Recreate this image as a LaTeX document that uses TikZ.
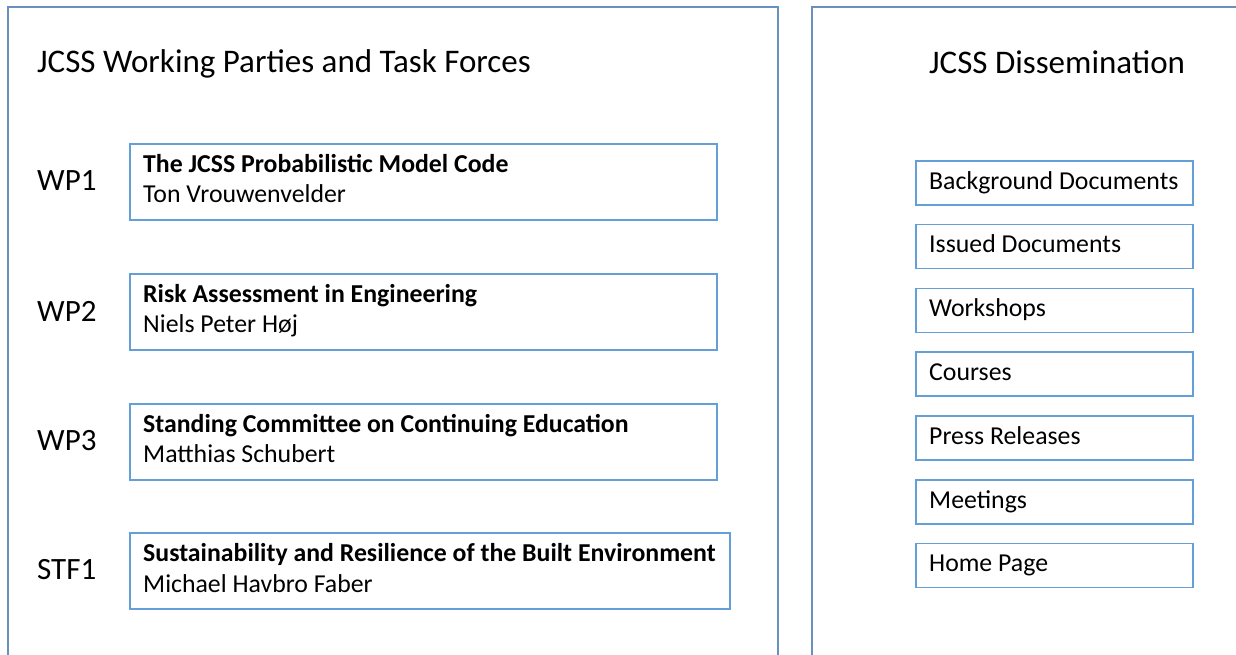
\documentclass[tikz,border=0pt]{standalone}
\usepackage{fontspec}
\setmainfont{Carlito}
\usetikzlibrary{calc}
\definecolor{outerc}{RGB}{105,145,190}
\definecolor{innerc}{RGB}{100,160,215}
\begin{document}
\begin{tikzpicture}[x=1pt,y=-1pt,
  outer/.style={draw=outerc, line width=1.5pt},
  ibox/.style={draw=innerc, line width=1.5pt, anchor=north west, inner sep=0pt, minimum height=76pt},
  dbox/.style={draw=innerc, line width=1.5pt, anchor=north west, inner sep=0pt, minimum width=277pt, minimum height=44pt},
  ttl/.style={anchor=base west, inner sep=0pt, font=\fontsize{33}{40}\selectfont},
  lbl/.style={anchor=west, inner sep=0pt, font=\fontsize{31}{37}\selectfont},
  btxt/.style={anchor=base west, inner sep=0pt, font=\fontsize{25.8}{30}\selectfont\bfseries},
  ntxt/.style={anchor=base west, inner sep=0pt, font=\fontsize{25.8}{30}\selectfont},
]
\useasboundingbox (0,0) rectangle (1236,654);
\clip (0,0) rectangle (1236,654);
% outer panels (open at the bottom / right)
\draw[outer] (8,670) -- (8,7) -- (778,7) -- (778,670);
\draw[outer] (812,670) -- (812,7) -- (1250,7) -- (1250,670);

\node[ttl] (t1) at (37,72) {JCSS Working Parties and Task Forces};
\node[ttl] (t2) at (929,73) {JCSS Dissemination};

% working party boxes
\node[ibox, minimum width=587pt] (wp1) at (129,143) {};
\node[ibox, minimum width=587pt] (wp2) at (129,273) {};
\node[ibox, minimum width=587pt] (wp3) at (129,403) {};
\node[ibox, minimum width=600pt] (stf1) at (129,532) {};

\foreach \b/\l in {wp1/WP1, wp2/WP2, wp3/WP3, stf1/STF1}{
  \node[lbl] (l\b) at ($(\b.north west)+(-92,38)$) {\l};
}

\node[btxt] (h1) at ($(wp1.north west)+(14,29)$) {The JCSS Probabilistic Model Code};
\node[ntxt] (n1) at ($(wp1.north west)+(14,59)$) {Ton Vrouwenvelder};
\node[btxt] (h2) at ($(wp2.north west)+(14,29)$) {Risk Assessment in Engineering};
\node[ntxt] (n2) at ($(wp2.north west)+(14,59)$) {Niels Peter Høj};
\node[btxt] (h3) at ($(wp3.north west)+(14,29)$) {Standing Committee on Continuing Education};
\node[ntxt] (n3) at ($(wp3.north west)+(14,59)$) {Matthias Schubert};
\node[btxt] (h4) at ($(stf1.north west)+(14,29)$) {Sustainability and Resilience of the Built Environment};
\node[ntxt] (n4) at ($(stf1.north west)+(14,60)$) {Michael Havbro Faber};

% dissemination boxes
\foreach \i/\t in {0/Background Documents, 1/Issued Documents, 2/Workshops, 3/Courses, 4/Press Releases, 5/Meetings, 6/Home Page}{
  \node[dbox] (d\i) at (915,{160+63.83*\i}) {};
  \node[ntxt] (dt\i) at ($(d\i.north west)+(14,29)$) {\t};
}
\end{tikzpicture}
\end{document}
